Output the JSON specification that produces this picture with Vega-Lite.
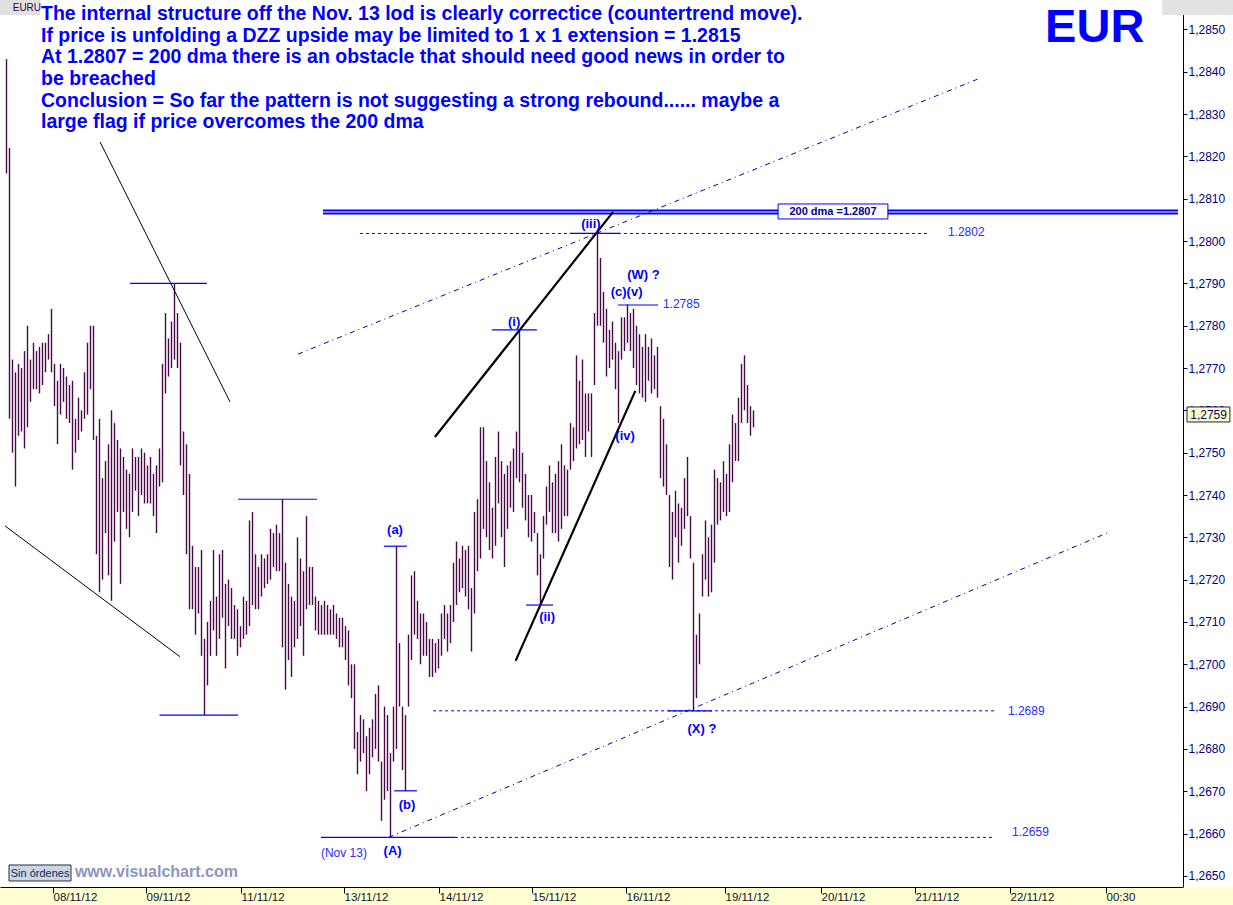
{
  "$schema": "https://vega.github.io/schema/vega-lite/v6.json",
  "width": 1183,
  "height": 887,
  "autosize": {"type": "none"},
  "padding": {"left": 0, "top": 0, "right": 50, "bottom": 18},
  "background": "#ffffff",
  "config": {"view": {"stroke": null}, "font": "Liberation Sans"},
  "resolve": {"axis": {"x": "independent", "y": "independent"}},
  "datasets": {
    "bars": [
      {"t":2,"p":1.2843,"l":1.2816},{"t":3,"p":1.2822,"l":1.2758},{"t":4,"p":1.2772,"l":1.2750},{"t":5,"p":1.2769,"l":1.2742},
      {"t":6,"p":1.2771,"l":1.2754},{"t":7,"p":1.2770,"l":1.2755},{"t":8,"p":1.2774,"l":1.2751},{"t":9,"p":1.2780,"l":1.2756},
      {"t":10,"p":1.2772,"l":1.2762},{"t":11,"p":1.2776,"l":1.2765},{"t":12,"p":1.2774,"l":1.2765},{"t":13,"p":1.2775,"l":1.2764},
      {"t":14,"p":1.2776,"l":1.2766},{"t":15,"p":1.2776,"l":1.2769},{"t":16,"p":1.2778,"l":1.2772},{"t":17,"p":1.2784,"l":1.2769},
      {"t":18,"p":1.2771,"l":1.2761},{"t":19,"p":1.2767,"l":1.2752},{"t":20,"p":1.2771,"l":1.2759},{"t":21,"p":1.2770,"l":1.2762},
      {"t":22,"p":1.2768,"l":1.2758},{"t":23,"p":1.2766,"l":1.2757},{"t":24,"p":1.2767,"l":1.2746},{"t":25,"p":1.2758,"l":1.2750},
      {"t":26,"p":1.2763,"l":1.2753},{"t":27,"p":1.2760,"l":1.2755},{"t":28,"p":1.2769,"l":1.2758},{"t":29,"p":1.2776,"l":1.2759},
      {"t":30,"p":1.2780,"l":1.2765},{"t":31,"p":1.2780,"l":1.2753},{"t":32,"p":1.2754,"l":1.2726},{"t":33,"p":1.2758,"l":1.2717},
      {"t":34,"p":1.2744,"l":1.2720},{"t":35,"p":1.2748,"l":1.2731},{"t":36,"p":1.2752,"l":1.2721},{"t":37,"p":1.2760,"l":1.2715},
      {"t":38,"p":1.2757,"l":1.2729},{"t":39,"p":1.2753,"l":1.2736},{"t":40,"p":1.2751,"l":1.2719},{"t":41,"p":1.2749,"l":1.2736},
      {"t":42,"p":1.2746,"l":1.2732},{"t":43,"p":1.2745,"l":1.2730},{"t":44,"p":1.2751,"l":1.2736},{"t":45,"p":1.2749,"l":1.2741},
      {"t":46,"p":1.2749,"l":1.2735},{"t":47,"p":1.2751,"l":1.2740},{"t":48,"p":1.2750,"l":1.2738},{"t":49,"p":1.2747,"l":1.2738},
      {"t":50,"p":1.2749,"l":1.2738},{"t":51,"p":1.2745,"l":1.2735},{"t":52,"p":1.2747,"l":1.2731},{"t":53,"p":1.2751,"l":1.2742},
      {"t":54,"p":1.2771,"l":1.2743},{"t":55,"p":1.2783,"l":1.2764},{"t":56,"p":1.2777,"l":1.2768},{"t":57,"p":1.2781,"l":1.2770},
      {"t":58,"p":1.2790,"l":1.2772},{"t":59,"p":1.2783,"l":1.2770},{"t":60,"p":1.2776,"l":1.2747},{"t":61,"p":1.2755,"l":1.2740},
      {"t":62,"p":1.2752,"l":1.2726},{"t":63,"p":1.2745,"l":1.2713},{"t":64,"p":1.2728,"l":1.2713},{"t":65,"p":1.2723,"l":1.2707},
      {"t":66,"p":1.2723,"l":1.2712},{"t":67,"p":1.2727,"l":1.2702},{"t":68,"p":1.2706,"l":1.2688},{"t":69,"p":1.2710,"l":1.2695},
      {"t":70,"p":1.2715,"l":1.2702},{"t":71,"p":1.2727,"l":1.2708},{"t":72,"p":1.2716,"l":1.2702},{"t":73,"p":1.2726,"l":1.2706},
      {"t":74,"p":1.2727,"l":1.2711},{"t":75,"p":1.2719,"l":1.2699},{"t":76,"p":1.2720,"l":1.2709},{"t":77,"p":1.2718,"l":1.2706},
      {"t":78,"p":1.2714,"l":1.2706},{"t":79,"p":1.2713,"l":1.2702},{"t":80,"p":1.2709,"l":1.2704},{"t":81,"p":1.2716,"l":1.2706},
      {"t":82,"p":1.2715,"l":1.2707},{"t":83,"p":1.2734,"l":1.2709},{"t":84,"p":1.2736,"l":1.2714},{"t":85,"p":1.2726,"l":1.2713},
      {"t":86,"p":1.2723,"l":1.2713},{"t":87,"p":1.2726,"l":1.2716},{"t":88,"p":1.2725,"l":1.2718},{"t":89,"p":1.2726,"l":1.2719},
      {"t":90,"p":1.2732,"l":1.2720},{"t":91,"p":1.2731,"l":1.2723},{"t":92,"p":1.2733,"l":1.2722},{"t":93,"p":1.2731,"l":1.2722},
      {"t":94,"p":1.2739,"l":1.2704},{"t":95,"p":1.2724,"l":1.2694},{"t":96,"p":1.2719,"l":1.2701},{"t":97,"p":1.2716,"l":1.2697},
      {"t":98,"p":1.2715,"l":1.2704},{"t":99,"p":1.2730,"l":1.2706},{"t":100,"p":1.2725,"l":1.2709},{"t":101,"p":1.2722,"l":1.2702},
      {"t":102,"p":1.2735,"l":1.2713},{"t":103,"p":1.2723,"l":1.2714},{"t":104,"p":1.2723,"l":1.2714},{"t":105,"p":1.2716,"l":1.2708},
      {"t":106,"p":1.2715,"l":1.2707},{"t":107,"p":1.2714,"l":1.2707},{"t":108,"p":1.2715,"l":1.2707},{"t":109,"p":1.2714,"l":1.2707},
      {"t":110,"p":1.2713,"l":1.2707},{"t":111,"p":1.2714,"l":1.2707},{"t":112,"p":1.2712,"l":1.2706},{"t":113,"p":1.2711,"l":1.2704},
      {"t":114,"p":1.2711,"l":1.2704},{"t":115,"p":1.2709,"l":1.2701},{"t":116,"p":1.2708,"l":1.2695},{"t":117,"p":1.2700,"l":1.2692},
      {"t":118,"p":1.2700,"l":1.2680},{"t":119,"p":1.2684,"l":1.2674},{"t":120,"p":1.2688,"l":1.2677},{"t":121,"p":1.2687,"l":1.2679},
      {"t":122,"p":1.2683,"l":1.2670},{"t":123,"p":1.2685,"l":1.2674},{"t":124,"p":1.2687,"l":1.2678},{"t":125,"p":1.2693,"l":1.2680},
      {"t":126,"p":1.2695,"l":1.2677},{"t":127,"p":1.2677,"l":1.2663},{"t":128,"p":1.2690,"l":1.2668},{"t":129,"p":1.2688,"l":1.2670},
      {"t":130,"p":1.2679,"l":1.2659},{"t":131,"p":1.2690,"l":1.2677},{"t":132,"p":1.2728,"l":1.2680},{"t":133,"p":1.2705,"l":1.2690},
      {"t":134,"p":1.2690,"l":1.2675},{"t":135,"p":1.2688,"l":1.2670},{"t":136,"p":1.2707,"l":1.2690},{"t":137,"p":1.2721,"l":1.2701},
      {"t":138,"p":1.2722,"l":1.2707},{"t":139,"p":1.2715,"l":1.2706},{"t":140,"p":1.2712,"l":1.2700},{"t":141,"p":1.2712,"l":1.2702},
      {"t":142,"p":1.2710,"l":1.2702},{"t":143,"p":1.2706,"l":1.2697},{"t":144,"p":1.2706,"l":1.2697},{"t":145,"p":1.2705,"l":1.2698},
      {"t":146,"p":1.2706,"l":1.2699},{"t":147,"p":1.2712,"l":1.2702},{"t":148,"p":1.2714,"l":1.2706},{"t":149,"p":1.2712,"l":1.2703},
      {"t":150,"p":1.2714,"l":1.2705},{"t":151,"p":1.2724,"l":1.2710},{"t":152,"p":1.2729,"l":1.2714},{"t":153,"p":1.2725,"l":1.2717},
      {"t":154,"p":1.2728,"l":1.2718},{"t":155,"p":1.2727,"l":1.2716},{"t":156,"p":1.2728,"l":1.2713},{"t":157,"p":1.2718,"l":1.2703},
      {"t":158,"p":1.2736,"l":1.2712},{"t":159,"p":1.2739,"l":1.2722},{"t":160,"p":1.2756,"l":1.2725},{"t":161,"p":1.2756,"l":1.2732},
      {"t":162,"p":1.2748,"l":1.2730},{"t":163,"p":1.2743,"l":1.2727},{"t":164,"p":1.2737,"l":1.2725},{"t":165,"p":1.2749,"l":1.2728},
      {"t":166,"p":1.2755,"l":1.2738},{"t":167,"p":1.2748,"l":1.2730},{"t":168,"p":1.2745,"l":1.2723},{"t":169,"p":1.2747,"l":1.2732},
      {"t":170,"p":1.2748,"l":1.2737},{"t":171,"p":1.2751,"l":1.2736},{"t":172,"p":1.2755,"l":1.2744},{"t":173,"p":1.2779,"l":1.2743},
      {"t":174,"p":1.2750,"l":1.2737},{"t":175,"p":1.2745,"l":1.2734},{"t":176,"p":1.2740,"l":1.2730},{"t":177,"p":1.2740,"l":1.2729},
      {"t":178,"p":1.2736,"l":1.2731},{"t":179,"p":1.2731,"l":1.2721},{"t":180,"p":1.2726,"l":1.2714},{"t":181,"p":1.2735,"l":1.2725},
      {"t":182,"p":1.2742,"l":1.2733},{"t":183,"p":1.2747,"l":1.2736},{"t":184,"p":1.2743,"l":1.2731},{"t":185,"p":1.2745,"l":1.2731},
      {"t":186,"p":1.2748,"l":1.2729},{"t":187,"p":1.2752,"l":1.2732},{"t":188,"p":1.2747,"l":1.2735},{"t":189,"p":1.2746,"l":1.2735},
      {"t":190,"p":1.2757,"l":1.2746},{"t":191,"p":1.2756,"l":1.2748},{"t":192,"p":1.2773,"l":1.2751},{"t":193,"p":1.2767,"l":1.2752},
      {"t":194,"p":1.2772,"l":1.2753},{"t":195,"p":1.2764,"l":1.2749},{"t":196,"p":1.2764,"l":1.2755},{"t":197,"p":1.2764,"l":1.2749},
      {"t":198,"p":1.2783,"l":1.2766},{"t":199,"p":1.2802,"l":1.2780},{"t":200,"p":1.2796,"l":1.2780},{"t":201,"p":1.2788,"l":1.2776},
      {"t":202,"p":1.2784,"l":1.2768},{"t":203,"p":1.2779,"l":1.2770},{"t":204,"p":1.2781,"l":1.2772},{"t":205,"p":1.2776,"l":1.2765},
      {"t":206,"p":1.2774,"l":1.2757},{"t":207,"p":1.2782,"l":1.2772},{"t":208,"p":1.2782,"l":1.2774},{"t":209,"p":1.2785,"l":1.2776},
      {"t":210,"p":1.2783,"l":1.2774},{"t":211,"p":1.2784,"l":1.2770},{"t":212,"p":1.2780,"l":1.2766},{"t":213,"p":1.2778,"l":1.2764},
      {"t":214,"p":1.2775,"l":1.2763},{"t":215,"p":1.2778,"l":1.2762},{"t":216,"p":1.2775,"l":1.2767},{"t":217,"p":1.2777,"l":1.2764},
      {"t":218,"p":1.2773,"l":1.2765},{"t":219,"p":1.2775,"l":1.2763},{"t":220,"p":1.2761,"l":1.2744},{"t":221,"p":1.2758,"l":1.2742},
      {"t":222,"p":1.2752,"l":1.2740},{"t":223,"p":1.2740,"l":1.2723},{"t":224,"p":1.2736,"l":1.2720},{"t":225,"p":1.2741,"l":1.2730},
      {"t":226,"p":1.2738,"l":1.2724},{"t":227,"p":1.2737,"l":1.2728},{"t":228,"p":1.2744,"l":1.2732},{"t":229,"p":1.2749,"l":1.2735},
      {"t":230,"p":1.2735,"l":1.2725},{"t":231,"p":1.2724,"l":1.2689},{"t":232,"p":1.2707,"l":1.2692},{"t":233,"p":1.2712,"l":1.2700},
      {"t":234,"p":1.2726,"l":1.2716},{"t":235,"p":1.2734,"l":1.2720},{"t":236,"p":1.2730,"l":1.2716},{"t":237,"p":1.2733,"l":1.2717},
      {"t":238,"p":1.2746,"l":1.2724},{"t":239,"p":1.2744,"l":1.2733},{"t":240,"p":1.2743,"l":1.2734},{"t":241,"p":1.2748,"l":1.2736},
      {"t":242,"p":1.2745,"l":1.2735},{"t":243,"p":1.2752,"l":1.2736},{"t":244,"p":1.2759,"l":1.2743},{"t":245,"p":1.2757,"l":1.2748},
      {"t":246,"p":1.2763,"l":1.2748},{"t":247,"p":1.2771,"l":1.2757},{"t":248,"p":1.2773,"l":1.2760},{"t":249,"p":1.2766,"l":1.2757},
      {"t":250,"p":1.2761,"l":1.2754},{"t":251,"p":1.2760,"l":1.2756}
    ],
    "thin": [
      {"t":33.2,"p":1.28234,"t2":76.5,"p2":1.27620},
      {"t":1.5,"p":1.27327,"t2":59.8,"p2":1.27018}
    ],
    "thick": [
      {"t":144.8,"p":1.27537,"t2":204.2,"p2":1.28069},
      {"t":171.7,"p":1.27008,"t2":211.6,"p2":1.27646}
    ],
    "marks": [
      {"t":43.2,"p":1.27900,"t2":68.8,"p2":1.27900},
      {"t":79.2,"p":1.27390,"t2":105.5,"p2":1.27390},
      {"t":53.0,"p":1.26880,"t2":79.2,"p2":1.26880},
      {"t":127.8,"p":1.27279,"t2":135.5,"p2":1.27279},
      {"t":131.2,"p":1.26701,"t2":138.8,"p2":1.26701},
      {"t":106.8,"p":1.26591,"t2":151.5,"p2":1.26591},
      {"t":163.8,"p":1.27790,"t2":178.8,"p2":1.27790},
      {"t":175.2,"p":1.27140,"t2":184.2,"p2":1.27140},
      {"t":189.8,"p":1.28018,"t2":206.5,"p2":1.28018},
      {"t":205.8,"p":1.27849,"t2":219.2,"p2":1.27849},
      {"t":222.5,"p":1.26890,"t2":237.2,"p2":1.26890}
    ],
    "dots": [
      {"t":119.8,"p":1.28018,"t2":308.8,"p2":1.28018},
      {"t":144.2,"p":1.26890,"t2":332.2,"p2":1.26890},
      {"t":151.5,"p":1.26591,"t2":331.5,"p2":1.26591}
    ],
    "channels": [
      {"t":99.2,"p":1.27733,"t2":326.5,"p2":1.28385},
      {"t":129.4,"p":1.26591,"t2":369.8,"p2":1.27313}
    ],
    "dma": [
      {"t":107.5,"p":1.280723,"t2":392.5,"p2":1.280723},
      {"t":107.5,"p":1.280652,"t2":392.5,"p2":1.280652}
    ],
    "title": [
      {"t":13.5,"p":1.285224,"text":"The internal structure off the Nov. 13 lod is clearly correctice (countertrend move)."},
      {"t":13.5,"p":1.284712,"text":"If price is unfolding a DZZ upside may be limited to 1 x 1 extension = 1.2815"},
      {"t":13.5,"p":1.284201,"text":"At 1.2807 = 200 dma there is an obstacle that should need good news in order to"},
      {"t":13.5,"p":1.283689,"text":"be breached"},
      {"t":13.5,"p":1.283176,"text":"Conclusion = So far the pattern is not suggesting a strong rebound...... maybe a"},
      {"t":13.5,"p":1.282665,"text":"large flag if price overcomes the 200 dma"}
    ],
    "waves": [
      {"t":131.5,"p":1.273079,"text":"(a)"},
      {"t":135.5,"p":1.266581,"text":"(b)"},
      {"t":130.7,"p":1.265494,"text":"(A)"},
      {"t":171.2,"p":1.277994,"text":"(i)"},
      {"t":182.2,"p":1.271023,"text":"(ii)"},
      {"t":196.8,"p":1.280309,"text":"(iii)"},
      {"t":208.2,"p":1.275300,"text":"(iv)"},
      {"t":208.7,"p":1.278703,"text":"(c)(v)"},
      {"t":214.3,"p":1.279104,"text":"(W)  ?"},
      {"t":233.8,"p":1.268376,"text":"(X)  ?"}
    ],
    "levels": [
      {"t":315.8,"p":1.280120,"text":"1.2802"},
      {"t":220.8,"p":1.278419,"text":"1.2785"},
      {"t":335.8,"p":1.268802,"text":"1.2689"},
      {"t":337.2,"p":1.265942,"text":"1.2659"},
      {"t":106.8,"p":1.265447,"text":"(Nov 13)"}
    ]
  },
  "layer": [
    {
      "data": {"values": [{}]},
      "mark": {"type": "rect", "color": "#ffffd2"},
      "encoding": {
        "x": {"datum": -0.17, "type": "quantitative", "scale": {"domain": [-0.1667, 394.1667], "nice": false, "zero": false}, "axis": null},
        "x2": {"datum": 411},
        "y": {"datum": 1.264737, "type": "quantitative", "scale": {"domain": [1.264737, 1.285697], "nice": false, "zero": false}, "axis": null},
        "y2": {"datum": 1.26431}
      }
    },
    {
      "data": {"values": [{}]},
      "mark": {"type": "rect", "color": "#e2e2e2"},
      "encoding": {
        "x": {"datum": 387.2, "type": "quantitative", "scale": {"domain": [-0.1667, 394.1667], "nice": false, "zero": false}, "axis": null},
        "x2": {"datum": 411},
        "y": {"datum": 1.285697, "type": "quantitative", "scale": {"domain": [1.264737, 1.285697], "nice": false, "zero": false}, "axis": null},
        "y2": {"datum": 1.285343}
      }
    },
    {
      "data": {"values": [{}]},
      "mark": {"type": "rect", "color": "#e0e0e0"},
      "encoding": {
        "x": {"datum": -0.17, "type": "quantitative", "scale": {"domain": [-0.1667, 394.1667], "nice": false, "zero": false}, "axis": null},
        "x2": {"datum": 13.2},
        "y": {"datum": 1.285697, "type": "quantitative", "scale": {"domain": [1.264737, 1.285697], "nice": false, "zero": false}, "axis": null},
        "y2": {"datum": 1.285343}
      }
    },
    {
      "data": {"name": "bars"},
      "mark": {"type": "rule", "color": "#4a0a4a", "strokeWidth": 1.4},
      "encoding": {
        "x": {
          "field": "t", "type": "quantitative",
          "scale": {"domain": [-0.1667, 394.1667], "nice": false, "zero": false},
          "axis": {
            "title": null, "orient": "bottom", "zindex": 1, "grid": false,
            "domain": true, "domainColor": "#000000", "domainWidth": 1,
            "ticks": true, "tickColor": "#000000", "tickSize": 6, "tickWidth": 1,
            "values": [17.5, 48.5, 80.2, 114.5, 146.2, 177.2, 208.5, 241.5, 273.5, 304.8, 336.5, 368.5],
            "labelExpr": "['08/11/12','09/11/12','11/11/12','13/11/12','14/11/12','15/11/12','16/11/12','19/11/12','20/11/12','21/11/12','22/11/12','00:30'][indexof([17.5,48.5,80.2,114.5,146.2,177.2,208.5,241.5,273.5,304.8,336.5,368.5], datum.value)]",
            "labelAlign": "left", "labelDx": 3, "labelPadding": -2, "labelBaseline": "top",
            "labelFont": "Liberation Sans", "labelFontSize": 11.5, "labelColor": "#101030",
            "labelOverlap": false, "labelFlush": false, "labelBound": false
          }
        },
        "y": {
          "field": "p", "type": "quantitative",
          "scale": {"domain": [1.264737, 1.285697], "nice": false, "zero": false},
          "axis": {
            "title": null, "orient": "right", "zindex": 0, "grid": false,
            "domain": true, "domainColor": "#000000", "domainWidth": 1,
            "ticks": true, "tickColor": "#000080", "tickSize": 4,
            "values": [1.265, 1.266, 1.267, 1.268, 1.269, 1.27, 1.271, 1.272, 1.273, 1.274, 1.275, 1.276, 1.277, 1.278, 1.279, 1.28, 1.281, 1.282, 1.283, 1.284, 1.285],
            "labelExpr": "replace(format(datum.value, '.4f'), '.', ',')",
            "labelPadding": 1, "labelFont": "Liberation Sans", "labelFontSize": 12, "labelColor": "#000080",
            "labelOverlap": false, "labelFlush": false, "labelBound": false
          }
        },
        "y2": {"field": "l"}
      }
    },
    {
      "data": {"name": "channels"},
      "mark": {"type": "rule", "color": "#0000a0", "strokeWidth": 1, "strokeDash": [5, 4, 1, 4]},
      "encoding": {
        "x": {"field": "t", "type": "quantitative", "scale": {"domain": [-0.1667, 394.1667], "nice": false, "zero": false}, "axis": null},
        "x2": {"field": "t2"},
        "y": {"field": "p", "type": "quantitative", "scale": {"domain": [1.264737, 1.285697], "nice": false, "zero": false}, "axis": null},
        "y2": {"field": "p2"}
      }
    },
    {
      "data": {"name": "dots"},
      "mark": {"type": "rule", "color": "#0000e0", "strokeWidth": 1, "strokeDash": [3, 3]},
      "encoding": {
        "x": {"field": "t", "type": "quantitative", "scale": {"domain": [-0.1667, 394.1667], "nice": false, "zero": false}, "axis": null},
        "x2": {"field": "t2"},
        "y": {"field": "p", "type": "quantitative", "scale": {"domain": [1.264737, 1.285697], "nice": false, "zero": false}, "axis": null},
        "y2": {"field": "p2"}
      }
    },
    {
      "data": {"name": "dma"},
      "mark": {"type": "rule", "color": "#0000ff", "strokeWidth": 2},
      "encoding": {
        "x": {"field": "t", "type": "quantitative", "scale": {"domain": [-0.1667, 394.1667], "nice": false, "zero": false}, "axis": null},
        "x2": {"field": "t2"},
        "y": {"field": "p", "type": "quantitative", "scale": {"domain": [1.264737, 1.285697], "nice": false, "zero": false}, "axis": null},
        "y2": {"field": "p2"}
      }
    },
    {
      "data": {"name": "thin"},
      "mark": {"type": "rule", "color": "#000000", "strokeWidth": 1},
      "encoding": {
        "x": {"field": "t", "type": "quantitative", "scale": {"domain": [-0.1667, 394.1667], "nice": false, "zero": false}, "axis": null},
        "x2": {"field": "t2"},
        "y": {"field": "p", "type": "quantitative", "scale": {"domain": [1.264737, 1.285697], "nice": false, "zero": false}, "axis": null},
        "y2": {"field": "p2"}
      }
    },
    {
      "data": {"name": "thick"},
      "mark": {"type": "rule", "color": "#000000", "strokeWidth": 2.2},
      "encoding": {
        "x": {"field": "t", "type": "quantitative", "scale": {"domain": [-0.1667, 394.1667], "nice": false, "zero": false}, "axis": null},
        "x2": {"field": "t2"},
        "y": {"field": "p", "type": "quantitative", "scale": {"domain": [1.264737, 1.285697], "nice": false, "zero": false}, "axis": null},
        "y2": {"field": "p2"}
      }
    },
    {
      "data": {"name": "marks"},
      "mark": {"type": "rule", "color": "#0000ff", "strokeWidth": 1.2},
      "encoding": {
        "x": {"field": "t", "type": "quantitative", "scale": {"domain": [-0.1667, 394.1667], "nice": false, "zero": false}, "axis": null},
        "x2": {"field": "t2"},
        "y": {"field": "p", "type": "quantitative", "scale": {"domain": [1.264737, 1.285697], "nice": false, "zero": false}, "axis": null},
        "y2": {"field": "p2"}
      }
    },
    {
      "data": {"values": [{}]},
      "mark": {"type": "rect", "fill": "#ffffff", "stroke": "#0000ff", "strokeWidth": 1},
      "encoding": {
        "x": {"datum": 259.2, "type": "quantitative", "scale": {"domain": [-0.1667, 394.1667], "nice": false, "zero": false}, "axis": null},
        "x2": {"datum": 295.8},
        "y": {"datum": 1.280877, "type": "quantitative", "scale": {"domain": [1.264737, 1.285697], "nice": false, "zero": false}, "axis": null},
        "y2": {"datum": 1.280523}
      }
    },
    {
      "data": {"values": [{"text": "200 dma =1.2807"}]},
      "mark": {"type": "text", "align": "center", "baseline": "alphabetic", "font": "Liberation Sans", "fontSize": 11, "fontWeight": "bold", "color": "#00008b"},
      "encoding": {
        "x": {"datum": 277.5, "type": "quantitative", "scale": {"domain": [-0.1667, 394.1667], "nice": false, "zero": false}, "axis": null},
        "y": {"datum": 1.280605, "type": "quantitative", "scale": {"domain": [1.264737, 1.285697], "nice": false, "zero": false}, "axis": null},
        "text": {"field": "text"}
      }
    },
    {
      "data": {"name": "title"},
      "mark": {"type": "text", "align": "left", "baseline": "alphabetic", "font": "Liberation Sans", "fontSize": 19.5, "fontWeight": "bold", "color": "#0000ff"},
      "encoding": {
        "x": {"field": "t", "type": "quantitative", "scale": {"domain": [-0.1667, 394.1667], "nice": false, "zero": false}, "axis": null},
        "y": {"field": "p", "type": "quantitative", "scale": {"domain": [1.264737, 1.285697], "nice": false, "zero": false}, "axis": null},
        "text": {"field": "text"}
      }
    },
    {
      "data": {"values": [{"text": "EUR"}]},
      "mark": {"type": "text", "align": "left", "baseline": "alphabetic", "font": "Liberation Sans", "fontSize": 47, "fontWeight": "bold", "color": "#0000ff"},
      "encoding": {
        "x": {"datum": 348.2, "type": "quantitative", "scale": {"domain": [-0.1667, 394.1667], "nice": false, "zero": false}, "axis": null},
        "y": {"datum": 1.284705, "type": "quantitative", "scale": {"domain": [1.264737, 1.285697], "nice": false, "zero": false}, "axis": null},
        "text": {"field": "text"}
      }
    },
    {
      "data": {"name": "waves"},
      "mark": {"type": "text", "align": "center", "baseline": "alphabetic", "font": "Liberation Sans", "fontSize": 13, "fontWeight": "bold", "color": "#0000ff"},
      "encoding": {
        "x": {"field": "t", "type": "quantitative", "scale": {"domain": [-0.1667, 394.1667], "nice": false, "zero": false}, "axis": null},
        "y": {"field": "p", "type": "quantitative", "scale": {"domain": [1.264737, 1.285697], "nice": false, "zero": false}, "axis": null},
        "text": {"field": "text"}
      }
    },
    {
      "data": {"name": "levels"},
      "mark": {"type": "text", "align": "left", "baseline": "alphabetic", "font": "Liberation Sans", "fontSize": 12, "color": "#2a2aff"},
      "encoding": {
        "x": {"field": "t", "type": "quantitative", "scale": {"domain": [-0.1667, 394.1667], "nice": false, "zero": false}, "axis": null},
        "y": {"field": "p", "type": "quantitative", "scale": {"domain": [1.264737, 1.285697], "nice": false, "zero": false}, "axis": null},
        "text": {"field": "text"}
      }
    },
    {
      "data": {"values": [{"text": "www.visualchart.com"}]},
      "mark": {"type": "text", "align": "left", "baseline": "alphabetic", "font": "Liberation Sans", "fontSize": 16, "fontWeight": "bold", "color": "#8c96c0"},
      "encoding": {
        "x": {"datum": 24.8, "type": "quantitative", "scale": {"domain": [-0.1667, 394.1667], "nice": false, "zero": false}, "axis": null},
        "y": {"datum": 1.264974, "type": "quantitative", "scale": {"domain": [1.264737, 1.285697], "nice": false, "zero": false}, "axis": null},
        "text": {"field": "text"}
      }
    },
    {
      "data": {"values": [{}]},
      "mark": {"type": "rect", "fill": "#c8d6ee", "stroke": "#303030", "strokeWidth": 1},
      "encoding": {
        "x": {"datum": 2.83, "type": "quantitative", "scale": {"domain": [-0.1667, 394.1667], "nice": false, "zero": false}, "axis": null},
        "x2": {"datum": 23.5},
        "y": {"datum": 1.265257, "type": "quantitative", "scale": {"domain": [1.264737, 1.285697], "nice": false, "zero": false}, "axis": null},
        "y2": {"datum": 1.264879}
      }
    },
    {
      "data": {"values": [{"text": "Sin órdenes"}]},
      "mark": {"type": "text", "align": "center", "baseline": "alphabetic", "font": "Liberation Sans", "fontSize": 11, "color": "#1a2740"},
      "encoding": {
        "x": {"datum": 13.2, "type": "quantitative", "scale": {"domain": [-0.1667, 394.1667], "nice": false, "zero": false}, "axis": null},
        "y": {"datum": 1.264974, "type": "quantitative", "scale": {"domain": [1.264737, 1.285697], "nice": false, "zero": false}, "axis": null},
        "text": {"field": "text"}
      }
    },
    {
      "data": {"values": [{"text": "EURU"}]},
      "mark": {"type": "text", "align": "center", "baseline": "alphabetic", "font": "Liberation Sans", "fontSize": 10, "color": "#400040"},
      "encoding": {
        "x": {"datum": 8.8, "type": "quantitative", "scale": {"domain": [-0.1667, 394.1667], "nice": false, "zero": false}, "axis": null},
        "y": {"datum": 1.285437, "type": "quantitative", "scale": {"domain": [1.264737, 1.285697], "nice": false, "zero": false}, "axis": null},
        "text": {"field": "text"}
      }
    },
    {
      "data": {"values": [{}]},
      "mark": {"type": "rect", "fill": "#ffffc0", "stroke": "#202040", "strokeWidth": 1},
      "encoding": {
        "x": {"datum": 395.5, "type": "quantitative", "scale": {"domain": [-0.1667, 394.1667], "nice": false, "zero": false}, "axis": null},
        "x2": {"datum": 409.8},
        "y": {"datum": 1.27608, "type": "quantitative", "scale": {"domain": [1.264737, 1.285697], "nice": false, "zero": false}, "axis": null},
        "y2": {"datum": 1.275726}
      }
    },
    {
      "data": {"values": [{"text": "1,2759"}]},
      "mark": {"type": "text", "align": "center", "baseline": "alphabetic", "font": "Liberation Sans", "fontSize": 12, "color": "#000080"},
      "encoding": {
        "x": {"datum": 402.7, "type": "quantitative", "scale": {"domain": [-0.1667, 394.1667], "nice": false, "zero": false}, "axis": null},
        "y": {"datum": 1.275796, "type": "quantitative", "scale": {"domain": [1.264737, 1.285697], "nice": false, "zero": false}, "axis": null},
        "text": {"field": "text"}
      }
    }
  ]
}
